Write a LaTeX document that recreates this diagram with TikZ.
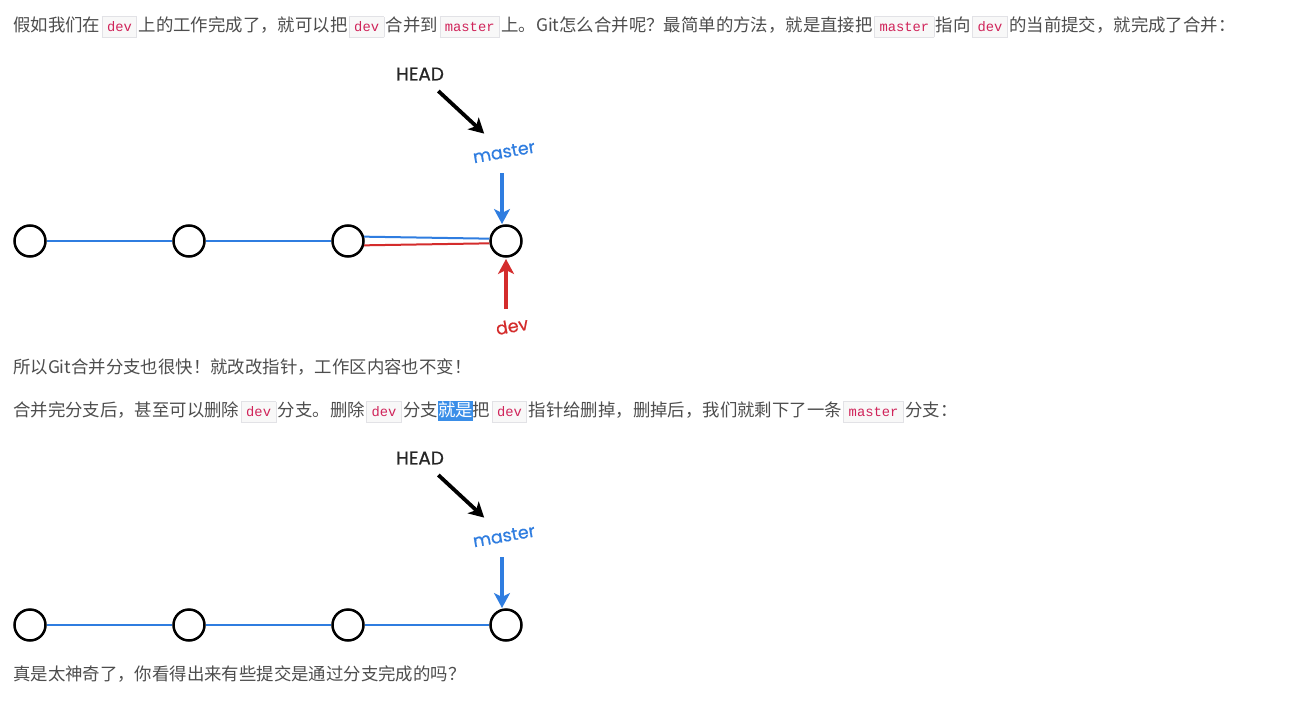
\documentclass[tikz,border=0pt]{standalone}
\usepackage{fontspec}
\setmainfont{Noto Sans CJK SC}
\newfontfamily\codefont{Liberation Mono}
\newfontfamily\handfont[FakeBold=0.6]{Poppins}
\usetikzlibrary{arrows.meta}
\definecolor{txt}{HTML}{4D4D4D}
\definecolor{codefg}{HTML}{D0245A}
\definecolor{codebg}{HTML}{F8F8F8}
\definecolor{codeborder}{HTML}{E2E2E6}
\definecolor{gitblue}{HTML}{2F7DE0}
\definecolor{gitred}{HTML}{D42C2C}
\definecolor{hlblue}{HTML}{3A8EE8}
\newcommand\codebox[1]{\hspace{1.5pt}{\setlength\fboxsep{0pt}\setlength\fboxrule{0.8pt}\fcolorbox{codeborder}{codebg}{\rule[-5.5pt]{0pt}{20pt}\hspace{4.5pt}{\codefont\fontsize{13.8}{14}\selectfont\color{codefg}#1}\hspace{4.5pt}}}\hspace{1.5pt}}
\newcommand\hlword[1]{{\setlength\fboxsep{0pt}\colorbox{hlblue}{\rule[-4.5pt]{0pt}{20pt}\color{white}#1}}}
\begin{document}
\begin{tikzpicture}[x=1pt,y=-1pt,
  para/.style={anchor=west, inner sep=0pt, text=txt, font=\fontsize{17.4}{20}\selectfont},
  commit/.style={circle, draw=black, line width=2.5pt, minimum size=31pt, inner sep=0pt, fill=white},
  hand/.style={inner sep=0pt, font=\handfont\fontsize{17.5}{18}\selectfont},
  headtxt/.style={hand, text=black!85, font=\handfont\fontsize{18.5}{19}\selectfont},
  edgeline/.style={line width=2pt},
  ptr/.style={line width=3.8pt, -{Stealth[length=15pt,width=16pt,inset=4pt]}},
]
\useasboundingbox[fill=white] (0,0) rectangle (1302,701);

% ---- text ----
\node[para] (t1) at (13,27) {假如我们在\codebox{dev}上的工作完成了，就可以把\codebox{dev}合并到\codebox{master}上。Git怎么合并呢？最简单的方法，就是直接把\codebox{master}指向\codebox{dev}的当前提交，就完成了合并：};
\node[para] (t2) at (13,367) {所以Git合并分支也很快！就改改指针，工作区内容也不变！};
\node[para] (t3) at (13,412) {合并完分支后，甚至可以删除\codebox{dev}分支。删除\codebox{dev}分支\hlword{就是}把\codebox{dev}指针给删掉，删掉后，我们就剩下了一条\codebox{master}分支：};
\node[para] (t4) at (13,674) {真是太神奇了，你看得出来有些提交是通过分支完成的吗？};

% ---- diagram 1 ----
\node[commit] (a1) at (30,241) {};
\node[commit] (a2) at (189,241) {};
\node[commit] (a3) at (348,241) {};
\node[commit] (a4) at (506,241) {};
\draw[gitblue, edgeline] (a1) -- (a2);
\draw[gitblue, edgeline] (a2) -- (a3);
\draw[gitblue, edgeline] (a3.15) -- (a4.172);
\draw[gitred, edgeline] (a3.-15) -- (a4.-172);

\node[headtxt] (headA) at (420,74) {HEAD};
\node[hand, text=gitblue, rotate=10] (masterA) at (504,152) {master};
\node[hand, text=gitred, rotate=10] (devA) at (512,326) {dev};
\draw[ptr, black, shorten <=25pt, shorten >=27pt] (headA.center) -- (masterA.center);
\draw[ptr, gitblue, shorten <=21pt, shorten >=17pt] ([xshift=-2pt]masterA.center) -- ([xshift=-4pt]a4.center);
\draw[ptr, gitred, shorten <=17pt, shorten >=18pt] ([xshift=-6pt]devA.center) -- (a4.center);

% ---- diagram 2 ----
\node[commit] (b1) at (30,625) {};
\node[commit] (b2) at (189,625) {};
\node[commit] (b3) at (348,625) {};
\node[commit] (b4) at (506,625) {};
\draw[gitblue, edgeline] (b1) -- (b2);
\draw[gitblue, edgeline] (b2) -- (b3);
\draw[gitblue, edgeline] (b3) -- (b4);

\node[headtxt] (headB) at (420,458) {HEAD};
\node[hand, text=gitblue, rotate=10] (masterB) at (504,536) {master};
\draw[ptr, black, shorten <=25pt, shorten >=27pt] (headB.center) -- (masterB.center);
\draw[ptr, gitblue, shorten <=21pt, shorten >=17pt] ([xshift=-2pt]masterB.center) -- ([xshift=-4pt]b4.center);
\end{tikzpicture}
\end{document}
